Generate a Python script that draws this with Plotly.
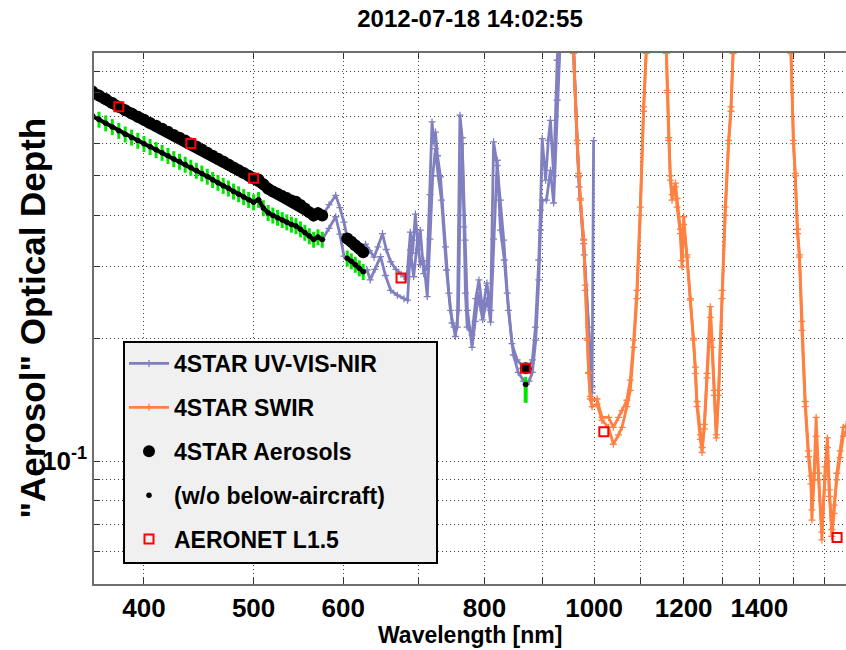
import math
import plotly.graph_objects as go

# ---------------- data ----------------
aeronet_wl = [380, 440, 500, 675, 870, 1020, 1640]
aeronet_aod = [0.738, 0.600, 0.493, 0.281, 0.169, 0.118, 0.065]

aer_wl = [355, 360, 365, 370, 375, 380, 385, 390, 395, 400, 405, 410, 415, 420, 425,
          430, 435, 440, 445, 450, 455, 460, 465, 470, 475, 480, 485, 490, 495, 500,
          505, 510, 515, 520, 525, 530, 535, 540, 545, 550, 555, 560, 565, 570, 575,
          605, 610, 615, 620, 625, 870]
aer_aod = [0.820, 0.805, 0.787, 0.771, 0.754, 0.738, 0.724, 0.711, 0.698, 0.686, 0.674, 0.663, 0.652, 0.641, 0.630,
           0.620, 0.610, 0.600, 0.590, 0.580, 0.570, 0.560, 0.551, 0.542, 0.533, 0.524, 0.516, 0.508, 0.500, 0.493,
           0.490, 0.477, 0.465, 0.458, 0.452, 0.446, 0.441, 0.435, 0.432, 0.424, 0.416, 0.407, 0.400, 0.405, 0.400,
           0.351, 0.345, 0.338, 0.332, 0.325, 0.169]
below_aod = [0.716, 0.703, 0.687, 0.673, 0.659, 0.645, 0.632, 0.621, 0.610, 0.599, 0.589, 0.579, 0.570, 0.560, 0.550,
             0.542, 0.533, 0.524, 0.515, 0.507, 0.498, 0.489, 0.481, 0.473, 0.466, 0.458, 0.451, 0.444, 0.437, 0.431,
             0.437, 0.417, 0.406, 0.400, 0.395, 0.390, 0.385, 0.380, 0.377, 0.370, 0.363, 0.356, 0.349, 0.354, 0.349,
             0.314, 0.309, 0.303, 0.297, 0.291, 0.154]
below_err_pct = 4.5
below_870_err_plus = [0.004]
below_870_err_minus = [0.015]

vis_wl_a = [355, 365, 375, 385, 395, 405, 415, 425, 435, 445, 455, 465, 475, 485, 495, 505, 515, 525, 535, 545, 555, 565, 575,
            583, 591, 596, 601, 605, 610, 615, 620, 624, 628, 633, 639, 644, 650, 655, 661, 668, 675, 683,
            688, 691, 695, 699, 702, 707, 712, 716, 719, 722, 724, 727, 731.5, 739, 744, 749, 752, 757,
            761, 764.5, 767, 769.6, 772.3, 780, 786, 791, 797, 804, 810,
            815, 821, 826.5, 832, 838, 846, 855, 867, 874, 882, 887.5, 893.5, 896.6, 899.7,
            906, 911, 915, 921, 927.6, 932, 945, 955, 959, 969, 979, 989, 996]
vis_aod_a = [0.820, 0.787, 0.754, 0.724, 0.698, 0.674, 0.652, 0.630, 0.610, 0.590, 0.570, 0.551, 0.533, 0.516, 0.500, 0.490, 0.465, 0.452, 0.441, 0.432, 0.416, 0.400, 0.400,
             0.425, 0.448, 0.418, 0.385, 0.352, 0.345, 0.338, 0.332, 0.327, 0.340, 0.328, 0.316, 0.335, 0.361, 0.330, 0.308, 0.295, 0.287, 0.279,
             0.364, 0.323, 0.403, 0.330, 0.368, 0.288, 0.300, 0.450, 0.678, 0.600, 0.640, 0.560, 0.497, 0.335, 0.258, 0.218, 0.213, 0.213,
             0.704, 0.620, 0.375, 0.258, 0.213, 0.204, 0.250, 0.278, 0.234, 0.273, 0.234,
             0.606, 0.530, 0.436, 0.348, 0.258, 0.194, 0.177, 0.169, 0.168, 0.177, 0.213, 0.311, 0.412, 0.617,
             0.488, 0.611, 0.684, 0.500, 0.960, 1.300, 2.500, 1.600, 1.000, 0.497, 0.341, 0.213, 0.147]

vis_wl_b = [355, 365, 375, 385, 395, 405, 415, 425, 435, 445, 455, 465, 475, 485, 495, 505, 515, 525, 535, 545, 555, 565, 575,
            583, 591, 596, 601, 605, 610, 615, 620, 625, 630, 634, 640, 647.5, 654, 661, 670, 679, 684,
            688, 692.6, 698, 702, 707, 712, 716, 720, 724, 728, 733, 740.5, 746.5, 754, 758.7,
            761, 764.5, 768.9, 772.8, 780, 785, 790, 797, 805, 810,
            815, 821, 826.5, 833, 840, 848.6, 857, 866, 870.6, 876, 882, 888, 893.5, 896.6, 900, 907.6, 915, 921, 927.6,
            932, 945, 955, 961, 970, 980, 990, 996, 999]
vis_aod_b = [0.716, 0.687, 0.659, 0.632, 0.610, 0.589, 0.570, 0.550, 0.533, 0.515, 0.498, 0.481, 0.466, 0.451, 0.437, 0.437, 0.406, 0.395, 0.385, 0.377, 0.363, 0.349, 0.349,
             0.372, 0.397, 0.360, 0.318, 0.314, 0.309, 0.303, 0.297, 0.291, 0.294, 0.278, 0.295, 0.317, 0.285, 0.262, 0.255, 0.250, 0.248,
             0.329, 0.283, 0.348, 0.303, 0.310, 0.253, 0.350, 0.500, 0.583, 0.500, 0.436, 0.294, 0.234, 0.202, 0.234,
             0.400, 0.600, 0.348, 0.234, 0.190, 0.220, 0.255, 0.222, 0.251, 0.219,
             0.350, 0.546, 0.368, 0.311, 0.234, 0.182, 0.165, 0.157, 0.154, 0.157, 0.165, 0.198, 0.278, 0.368, 0.436, 0.436, 0.516, 0.429, 0.766,
             1.300, 2.500, 1.800, 0.900, 0.470, 0.320, 0.200, 0.152, 0.610]

swir_wl = [945, 959, 966, 969, 972.4, 979, 982.3, 985.7, 989, 992.4,
           996, 1006, 1016, 1030, 1040, 1051, 1058.5, 1069, 1076.5, 1084,
           1091, 1098.6, 1106, 1112, 1125, 1145, 1158.4, 1160, 1164, 1168,
           1172, 1180, 1184, 1192, 1196, 1200, 1208, 1216.5, 1224.6, 1229,
           1233, 1241.5, 1246, 1251.6, 1258.5, 1267, 1271.4, 1277.3, 1282.5, 1288.5,
           1297.5, 1306, 1315, 1321.4, 1327, 1340, 1400, 1480, 1493, 1500.6,
           1506, 1513, 1519, 1526.5, 1537, 1547, 1555, 1558, 1565, 1571.5,
           1579, 1590, 1600.6, 1608, 1614.6, 1622.5, 1630, 1639, 1650, 1661,
           1670, 1680]
swir_aod_a = [1.8, 1.0, 0.611, 0.507, 0.436, 0.348, 0.262, 0.198, 0.164, 0.144,
              0.141, 0.142, 0.128, 0.128, 0.121, 0.128, 0.133, 0.141, 0.158, 0.198,
              0.262, 0.419, 0.738, 1.0, 2.0, 3.0, 1.0, 0.81, 0.611, 0.488,
              0.436, 0.470, 0.419, 0.361, 0.299, 0.397, 0.316, 0.248, 0.198, 0.164,
              0.136, 0.113, 0.105, 0.123, 0.164, 0.239, 0.198, 0.149, 0.114, 0.149,
              0.262, 0.419, 0.611, 0.738, 1.0, 2.0, 3.0, 1.5, 1.0, 0.611,
              0.507, 0.361, 0.316, 0.209, 0.136, 0.1025, 0.088, 0.0717, 0.0934, 0.128,
              0.0934, 0.0641, 0.0968, 0.114, 0.085, 0.0654, 0.0745, 0.0934, 0.106, 0.121,
              0.122, 0.125]
swir_aod_b = [1.7, 1.0, 0.60, 0.50, 0.44, 0.35, 0.27, 0.20, 0.165, 0.142,
              0.136, 0.138, 0.126, 0.121, 0.110, 0.116, 0.121, 0.136, 0.149, 0.19,
              0.25, 0.40, 0.72, 1.0, 2.0, 3.0, 1.0, 0.80, 0.62, 0.50,
              0.45, 0.48, 0.44, 0.37, 0.31, 0.38, 0.32, 0.25, 0.20, 0.17,
              0.14, 0.116, 0.108, 0.12, 0.16, 0.225, 0.19, 0.145, 0.116, 0.145,
              0.25, 0.40, 0.60, 0.72, 1.0, 2.0, 3.0, 1.5, 1.0, 0.60,
              0.50, 0.37, 0.32, 0.22, 0.14, 0.106, 0.092, 0.076, 0.090, 0.115,
              0.090, 0.067, 0.092, 0.108, 0.082, 0.068, 0.078, 0.090, 0.102, 0.115,
              0.118, 0.12]

x_tick_vals = [400, 500, 600, 700, 800, 900, 1000, 1100, 1200, 1300, 1400, 1500, 1600]
x_tick_text = ["400", "500", "600", "", "800", "", "1000", "", "1200", "", "1400", "", ""]
y_tick_vals = [0.05, 0.06, 0.07, 0.08, 0.09, 0.1, 0.2, 0.3, 0.4, 0.5, 0.6, 0.7, 0.8, 0.9, 1.0]
y_tick_text = ["", "", "", "", "", "10<sup>-1</sup>", "", "", "", "", "", "", "", "", ""]

title_text = "2012-07-18 14:02:55"
x_title = "Wavelength [nm]"
y_title = '"Aerosol" Optical Depth'

# ---------------- styles ----------------
FONT = "Liberation Sans, Arial, sans-serif"
PURPLE = "rgb(128,128,192)"
ORANGE = "rgb(255,128,64)"
GREEN = "rgb(0,230,0)"

W, H = 846, 650
ML, MR, MT, MB = 94, 0, 53, 66
PW, PH = W - ML - MR, H - MT - MB

# legend box in pixels (left, top, right, bottom)
LEG_L, LEG_T, LEG_R, LEG_B = 124, 342, 437, 563


def px2paper_x(px):
    return (px - ML) / PW


def px2paper_y(py):
    return (H - MB - py) / PH


def split_runs(xs, ys, max_step=10):
    """Insert gaps between non-contiguous channel runs so dense dots read as a band."""
    ox, oy = [], []
    for i, (xv, yv) in enumerate(zip(xs, ys)):
        if i and xv - xs[i - 1] > max_step:
            ox.append(None)
            oy.append(None)
        ox.append(xv)
        oy.append(yv)
    return ox, oy


fig = go.Figure()

for wl, aod, name, color, show, rank in [
    (vis_wl_a, vis_aod_a, "4STAR UV-VIS-NIR", PURPLE, True, 1),
    (vis_wl_b, vis_aod_b, "4STAR UV-VIS-NIR", PURPLE, False, 1),
    (swir_wl, swir_aod_a, "4STAR SWIR", ORANGE, True, 2),
    (swir_wl, swir_aod_b, "4STAR SWIR", ORANGE, False, 2),
]:
    fig.add_trace(go.Scatter(
        x=wl, y=aod, name=name, mode="lines+markers",
        line=dict(color=color, width=2.8),
        marker=dict(symbol="cross-thin", size=5, color=color, line=dict(color=color, width=1.3)),
        showlegend=show, legendgroup=name, legendrank=rank, hoverinfo="x+y"))

# green uncertainty marks around the below-aircraft values
fig.add_trace(go.Scatter(
    x=aer_wl, y=below_aod, mode="markers", marker=dict(size=1, color="rgba(0,0,0,0)"),
    error_y=dict(type="percent", value=below_err_pct, color=GREEN, thickness=3, width=0),
    showlegend=False, hoverinfo="skip"))
fig.add_trace(go.Scatter(
    x=aer_wl[-1:], y=below_aod[-1:], mode="markers", marker=dict(size=1, color="rgba(0,0,0,0)"),
    error_y=dict(type="data", symmetric=False, array=below_870_err_plus,
                 arrayminus=below_870_err_minus, color=GREEN, thickness=4, width=0),
    showlegend=False, hoverinfo="skip"))

# dense-channel bands (same values as the dots) so the runs look continuous
ax_, ay_ = split_runs(aer_wl, aer_aod)
fig.add_trace(go.Scatter(x=ax_, y=ay_, mode="lines", line=dict(color="black", width=11),
                         showlegend=False, hoverinfo="skip", connectgaps=False))
bx_, by_ = split_runs(aer_wl, below_aod)
fig.add_trace(go.Scatter(x=bx_, y=by_, mode="lines", line=dict(color="black", width=4),
                         showlegend=False, hoverinfo="skip", connectgaps=False))

fig.add_trace(go.Scatter(
    x=aer_wl, y=aer_aod, name="4STAR Aerosols", mode="markers",
    marker=dict(symbol="circle", size=12, color="black"),
    legendgroup="aer", legendrank=3))
fig.add_trace(go.Scatter(
    x=aer_wl, y=below_aod, name="(w/o below-aircraft)", mode="markers",
    marker=dict(symbol="circle", size=5.5, color="black"),
    legendgroup="below", legendrank=4))
fig.add_trace(go.Scatter(
    x=aeronet_wl, y=aeronet_aod, name="AERONET L1.5", mode="markers",
    marker=dict(symbol="square-open", size=9, color="red", line=dict(color="red", width=2)),
    legendgroup="aeronet", legendrank=5))

axis_common = dict(
    type="log", showline=True, linecolor="#6e6e6e", linewidth=1.5,
    ticks="inside", ticklen=6, tickcolor="#333", tickwidth=1,
    showgrid=True, gridcolor="rgba(0,0,0,0.75)", gridwidth=1, griddash="1px,3px",
    zeroline=False,
    tickfont=dict(family=FONT, size=26, color="black", weight="bold"),
)

fig.update_layout(
    width=W, height=H,
    margin=dict(l=ML, r=MR, t=MT, b=MB, pad=0),
    paper_bgcolor="white", plot_bgcolor="white",
    title=dict(text=title_text, x=(ML + PW / 2) / W, xanchor="center", xref="container",
               y=1 - 19 / H, yanchor="middle", yref="container",
               font=dict(family=FONT, size=24, color="black", weight="bold")),
    xaxis=dict(**axis_common, range=[math.log10(361.3), math.log10(1670)],
               tickvals=x_tick_vals, ticktext=x_tick_text, mirror="ticks",
               ticklabelstandoff=0),
    yaxis=dict(**axis_common, range=[math.log10(0.05), 0.0],
               tickvals=y_tick_vals, ticktext=y_tick_text, mirror=False),
    legend=dict(x=px2paper_x(LEG_L), y=px2paper_y(LEG_T), xanchor="left", yanchor="top",
                bgcolor="rgba(0,0,0,0)", borderwidth=0,
                font=dict(family=FONT, size=23, color="black", weight="bold"),
                tracegroupgap=11, itemwidth=40, traceorder="grouped"),
    shapes=[dict(type="rect", xref="paper", yref="paper",
                 x0=px2paper_x(LEG_L), x1=px2paper_x(LEG_R),
                 y0=px2paper_y(LEG_B), y1=px2paper_y(LEG_T),
                 fillcolor="#f0f0f0", line=dict(color="black", width=2), layer="above")],
    annotations=[
        dict(text=x_title, xref="paper", yref="paper", x=0.5, y=px2paper_y(635),
             xanchor="center", yanchor="middle", showarrow=False,
             font=dict(family=FONT, size=23, color="black", weight="bold")),
        dict(text=y_title, xref="paper", yref="paper", x=px2paper_x(32), y=0.5,
             xanchor="center", yanchor="middle", textangle=-90, showarrow=False,
             font=dict(family=FONT, size=35, color="black", weight="bold")),
    ],
    showlegend=True,
)

fig.write_html("out.html")
